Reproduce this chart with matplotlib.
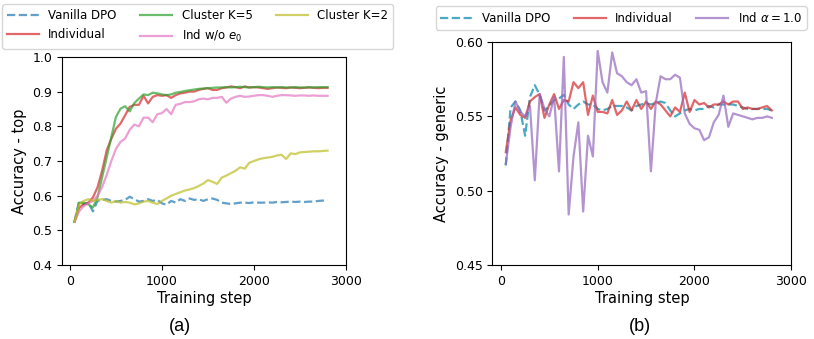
import matplotlib
matplotlib.use("Agg")
import matplotlib.pyplot as plt
import numpy as np

steps = list(range(50, 2850, 50))

# ---- panel (a): Accuracy - top ----
vanilla_top = [0.525, 0.585, 0.575, 0.580, 0.555, 0.585, 0.588, 0.590, 0.585, 0.583,
               0.585, 0.588, 0.597, 0.590, 0.583, 0.585, 0.590, 0.585, 0.588, 0.578,
               0.574, 0.585, 0.580, 0.590, 0.585, 0.592, 0.588, 0.590, 0.585, 0.590,
               0.592, 0.588, 0.580, 0.578, 0.576, 0.578, 0.580, 0.580, 0.579, 0.581,
               0.580, 0.580, 0.581, 0.580, 0.582, 0.581, 0.582, 0.583, 0.582, 0.583,
               0.582, 0.583, 0.583, 0.585, 0.586, 0.588]
individual_top = [0.525, 0.565, 0.575, 0.580, 0.595, 0.624, 0.672, 0.731, 0.764, 0.793,
                  0.808, 0.832, 0.856, 0.862, 0.862, 0.888, 0.866, 0.885, 0.890, 0.888,
                  0.890, 0.882, 0.890, 0.895, 0.897, 0.900, 0.900, 0.905, 0.908, 0.910,
                  0.905, 0.905, 0.910, 0.912, 0.915, 0.913, 0.910, 0.915, 0.912, 0.913,
                  0.912, 0.910, 0.908, 0.910, 0.912, 0.911, 0.910, 0.912, 0.911, 0.910,
                  0.911, 0.912, 0.911, 0.910, 0.911, 0.911]
cluster5_top = [0.525, 0.580, 0.580, 0.575, 0.566, 0.595, 0.653, 0.711, 0.769, 0.827,
                0.851, 0.858, 0.843, 0.867, 0.880, 0.892, 0.890, 0.897, 0.895, 0.892,
                0.890, 0.892, 0.897, 0.899, 0.902, 0.904, 0.906, 0.908, 0.909, 0.910,
                0.911, 0.912, 0.912, 0.913, 0.912, 0.913, 0.914, 0.913, 0.912, 0.913,
                0.914, 0.913, 0.912, 0.913, 0.912, 0.913, 0.912, 0.912, 0.913, 0.912,
                0.912, 0.913, 0.912, 0.913, 0.913, 0.913]
ind_wo_e0_top = [0.525, 0.555, 0.570, 0.578, 0.585, 0.600, 0.625, 0.660, 0.700, 0.735,
                 0.755, 0.765, 0.790, 0.805, 0.800, 0.825, 0.825, 0.812, 0.835, 0.838,
                 0.850, 0.835, 0.862, 0.865, 0.870, 0.870, 0.872, 0.878, 0.880, 0.878,
                 0.882, 0.882, 0.885, 0.868, 0.880, 0.885, 0.888, 0.885, 0.886, 0.888,
                 0.890, 0.890, 0.888, 0.885, 0.888, 0.890, 0.890, 0.889, 0.888, 0.889,
                 0.889, 0.888, 0.889, 0.888, 0.888, 0.888]
cluster2_top = [0.525, 0.575, 0.585, 0.590, 0.585, 0.588, 0.590, 0.585, 0.580, 0.585,
                0.580, 0.582, 0.580, 0.575, 0.578, 0.583, 0.585, 0.580, 0.576, 0.585,
                0.592, 0.600, 0.605, 0.610, 0.615, 0.618, 0.622, 0.628, 0.635, 0.645,
                0.640, 0.634, 0.652, 0.658, 0.665, 0.672, 0.682, 0.678, 0.695, 0.700,
                0.705, 0.708, 0.710, 0.712, 0.716, 0.718, 0.706, 0.722, 0.720, 0.725,
                0.726, 0.727, 0.728, 0.728, 0.729, 0.730]

# ---- panel (b): Accuracy - generic ----
vanilla_gen = [0.517, 0.556, 0.560, 0.554, 0.537, 0.563, 0.571, 0.5645, 0.554, 0.557,
               0.561, 0.562, 0.5645, 0.558, 0.555, 0.558, 0.560, 0.558, 0.558, 0.555,
               0.554, 0.555, 0.557, 0.557, 0.557, 0.556, 0.554, 0.557, 0.558, 0.559,
               0.558, 0.559, 0.560, 0.559, 0.554, 0.550, 0.552, 0.554, 0.555, 0.554,
               0.555, 0.555, 0.557, 0.556, 0.558, 0.558, 0.558, 0.558, 0.557, 0.556,
               0.555, 0.555, 0.555, 0.555, 0.555, 0.554]
individual_gen = [0.526, 0.5475, 0.556, 0.551, 0.549, 0.560, 0.563, 0.565, 0.549, 0.558,
                  0.565, 0.555, 0.561, 0.560, 0.573, 0.569, 0.573, 0.551, 0.564, 0.553,
                  0.553, 0.552, 0.561, 0.551, 0.554, 0.560, 0.554, 0.561, 0.555, 0.560,
                  0.555, 0.560, 0.558, 0.554, 0.550, 0.556, 0.553, 0.566, 0.553, 0.561,
                  0.558, 0.559, 0.556, 0.558, 0.558, 0.560, 0.558, 0.560, 0.560, 0.555,
                  0.556, 0.555, 0.555, 0.556, 0.557, 0.554]
ind_alpha1_gen = [0.518, 0.543, 0.560, 0.553, 0.550, 0.557, 0.507, 0.565, 0.555, 0.550,
                  0.563, 0.513, 0.590, 0.484, 0.523, 0.546, 0.486, 0.537, 0.523, 0.594,
                  0.573, 0.566, 0.593, 0.579, 0.577, 0.573, 0.571, 0.575, 0.566, 0.567,
                  0.513, 0.559, 0.577, 0.575, 0.575, 0.578, 0.576, 0.552, 0.545, 0.542,
                  0.541, 0.534, 0.536, 0.546, 0.551, 0.564, 0.543, 0.552, 0.551, 0.550,
                  0.549, 0.548, 0.549, 0.549, 0.550, 0.549]

fig = plt.figure(figsize=(8.14, 3.39), dpi=100)

ax1 = fig.add_axes([0.076, 0.218, 0.349, 0.614])
lw = 1.6
a = 0.7
ax1.plot(steps, vanilla_top, ls="--", color="#1f77b4", alpha=a, lw=lw, label="Vanilla DPO")
ax1.plot(steps, individual_top, color="#d62728", alpha=a, lw=lw, label="Individual")
ax1.plot(steps, cluster5_top, color="#2ca02c", alpha=a, lw=lw, label="Cluster K=5")
ax1.plot(steps, ind_wo_e0_top, color="#e377c2", alpha=a, lw=lw, label="Ind w/o $e_0$")
ax1.plot(steps, cluster2_top, color="#bcbd22", alpha=a, lw=lw, label="Cluster K=2")
ax1.set_ylim(0.4, 1.0)
ax1.set_xticks([0, 1000, 2000, 3000])
ax1.set_yticks([0.4, 0.5, 0.6, 0.7, 0.8, 0.9, 1.0])
ax1.set_xlabel("Training step", fontsize=10.5, labelpad=2)
ax1.set_ylabel("Accuracy - top", fontsize=10.5)
ax1.tick_params(labelsize=9)
ax1.legend(loc="lower left", bbox_to_anchor=(-0.21, 1.04), ncol=3, fontsize=8.5,
           handlelength=2.7, columnspacing=2.0, labelspacing=0.5,
           borderaxespad=0.0, frameon=True)

ax2 = fig.add_axes([0.605, 0.218, 0.367, 0.658])
ax2.plot(steps, vanilla_gen, ls="--", color="#2a9bb8", alpha=0.85, lw=lw, label="Vanilla DPO")
ax2.plot(steps, individual_gen, color="#d62728", alpha=a, lw=lw, label="Individual")
ax2.plot(steps, ind_alpha1_gen, color="#9467bd", alpha=a, lw=lw, label=r"Ind $\alpha=1.0$")
ax2.set_ylim(0.45, 0.60)
ax2.set_xticks([0, 1000, 2000, 3000])
ax2.set_yticks([0.45, 0.50, 0.55, 0.60])
ax2.set_xlabel("Training step", fontsize=10.5, labelpad=2)
ax2.set_ylabel("Accuracy - generic", fontsize=10.5)
ax2.tick_params(labelsize=9)
ax2.legend(loc="lower left", bbox_to_anchor=(-0.19, 1.055), ncol=3, fontsize=8.5,
           handlelength=2.7, columnspacing=2.0, borderaxespad=0.0, frameon=True)

fig.text(0.221, 0.012, "(a)", ha="center", va="bottom", fontsize=13, family="Liberation Sans")
fig.text(0.786, 0.012, "(b)", ha="center", va="bottom", fontsize=13, family="Liberation Sans")

fig.savefig("out.png", dpi=100)
